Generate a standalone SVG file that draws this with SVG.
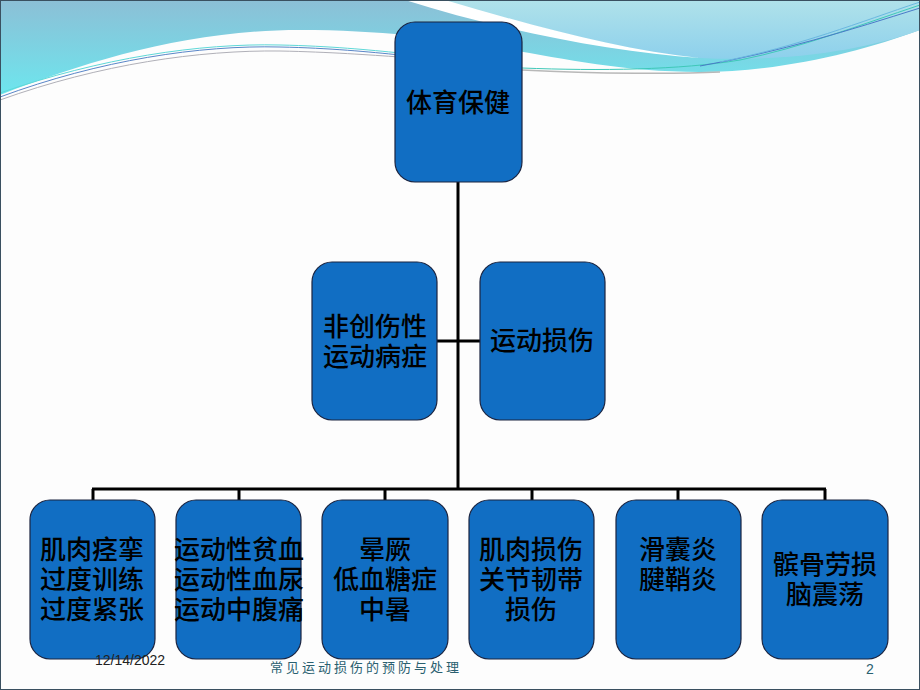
<svg xmlns="http://www.w3.org/2000/svg" width="920" height="690" viewBox="0 0 920 690">
<defs>
<linearGradient id="gA" x1="0" y1="0" x2="0" y2="1">
<stop offset="0" stop-color="#8cbfd6"/>
<stop offset="1" stop-color="#6de6ee"/>
</linearGradient>
<linearGradient id="gC" x1="0" y1="0" x2="0" y2="1">
<stop offset="0" stop-color="#b0e2ea"/>
<stop offset="1" stop-color="#8dd0ec"/>
</linearGradient>
<style>
.box{fill:#116ec3;stroke:#1b2440;stroke-width:1.2}
.t{font-family:"Noto Sans CJK SC","Noto Sans CJK TC",sans-serif;font-size:26px;font-weight:500;fill:#000;text-anchor:middle}
.conn{stroke:#000;stroke-width:3;fill:none}
</style>
</defs>
<rect width="920" height="690" fill="#fdfdfd"/>
<g id="background">
<path d="M0,0 L920,0 L920,30 C860,52 780,72 700,72 C620,72 560,58 500,48 C440,38 380,30 300,30 C190,30 90,60 0,95 Z" fill="url(#gA)"/>
<path d="M440,0 L920,0 L920,30 C860,52 780,62 700,58 C620,50 530,25 440,0 Z" fill="url(#gC)"/>
<path d="M405,0 L445,0 C530,25 620,50 700,58 C610,52 500,30 405,0 Z" fill="#ffffff"/>
<path d="M0,97 C100,60 200,45 280,47 C330,48 370,52 400,55" stroke="#5a86c8" stroke-width="1" fill="none"/>
<path d="M0,93 C100,58 200,43 280,45 C330,46 370,50 400,53" stroke="#5ed8d8" stroke-width="1" fill="none"/>
<path d="M0,100 C100,64 200,50 280,51 C330,52 370,55 400,57" stroke="#b0b0b8" stroke-width="1" fill="none"/>
<path d="M522,70 C600,74 680,74 720,72" stroke="#b8b8b8" stroke-width="1.5" fill="none"/>
<path d="M522,68 C600,71 680,70 740,60 C800,48 860,25 920,5" stroke="#3fc8b8" stroke-width="1" fill="none"/>
<path d="M700,66 C780,52 850,30 920,8" stroke="#4a7ac8" stroke-width="1" fill="none"/>
<path d="M720,62 C800,46 860,22 920,2" stroke="#6ab8e0" stroke-width="1" fill="none"/>
<rect x="0.5" y="0.5" width="919" height="689" fill="none" stroke="#3a5060" stroke-width="1"/>
</g>
<g id="connectors">
<line class="conn" x1="458" y1="182" x2="458" y2="489"/>
<line class="conn" x1="437" y1="341" x2="480" y2="341"/>
<line class="conn" x1="92" y1="489" x2="826" y2="489"/>
<line class="conn" x1="93" y1="489" x2="93" y2="500"/>
<line class="conn" x1="239" y1="489" x2="239" y2="500"/>
<line class="conn" x1="385" y1="489" x2="385" y2="500"/>
<line class="conn" x1="532" y1="489" x2="532" y2="500"/>
<line class="conn" x1="678" y1="489" x2="678" y2="500"/>
<line class="conn" x1="825" y1="489" x2="825" y2="500"/>
</g>
<g id="n-top">
<rect class="box" x="395" y="22" width="127" height="160" rx="20"/>
<text class="t" x="458" y="112">体育保健</text>
</g>
<g id="n-non">
<rect class="box" x="312" y="262" width="125" height="158" rx="20"/>
<text class="t" x="375" y="336">非创伤性<tspan x="375" dy="30">运动病症</tspan></text>
</g>
<g id="n-inj">
<rect class="box" x="480" y="262" width="125" height="158" rx="20"/>
<text class="t" x="542" y="350">运动损伤</text>
</g>
<g id="n-b1">
<rect class="box" x="30" y="500" width="125" height="159" rx="20"/>
<text class="t" x="92" y="559">肌肉痉挛<tspan x="92" dy="30">过度训练</tspan><tspan x="92" dy="30">过度紧张</tspan></text>
</g>
<g id="n-b2">
<rect class="box" x="176" y="500" width="125" height="159" rx="20"/>
<text class="t" x="239" y="559">运动性贫血<tspan x="239" dy="30">运动性血尿</tspan><tspan x="239" dy="30">运动中腹痛</tspan></text>
</g>
<g id="n-b3">
<rect class="box" x="322" y="500" width="126" height="159" rx="20"/>
<text class="t" x="385" y="559">晕厥<tspan x="385" dy="30">低血糖症</tspan><tspan x="385" dy="30">中暑</tspan></text>
</g>
<g id="n-b4">
<rect class="box" x="469" y="500" width="125" height="159" rx="20"/>
<text class="t" x="531" y="559">肌肉损伤<tspan x="531" dy="30">关节韧带</tspan><tspan x="531" dy="30">损伤</tspan></text>
</g>
<g id="n-b5">
<rect class="box" x="616" y="500" width="125" height="159" rx="20"/>
<text class="t" x="678" y="559">滑囊炎<tspan x="678" dy="30">腱鞘炎</tspan></text>
</g>
<g id="n-b6">
<rect class="box" x="762" y="500" width="126" height="159" rx="20"/>
<text class="t" x="825" y="574">髌骨劳损<tspan x="825" dy="30">脑震荡</tspan></text>
</g>
<g id="footer">
<text x="95" y="665" font-family="Liberation Sans, sans-serif" font-size="14" fill="#222">12/14/2022</text>
<text x="270" y="672" font-family="Noto Sans CJK SC, sans-serif" font-size="13" letter-spacing="3" fill="#2a6070">常见运动损伤的预防与处理</text>
<text x="866" y="674" font-family="Liberation Sans, sans-serif" font-size="14" fill="#2a6070">2</text>
</g>
</svg>
